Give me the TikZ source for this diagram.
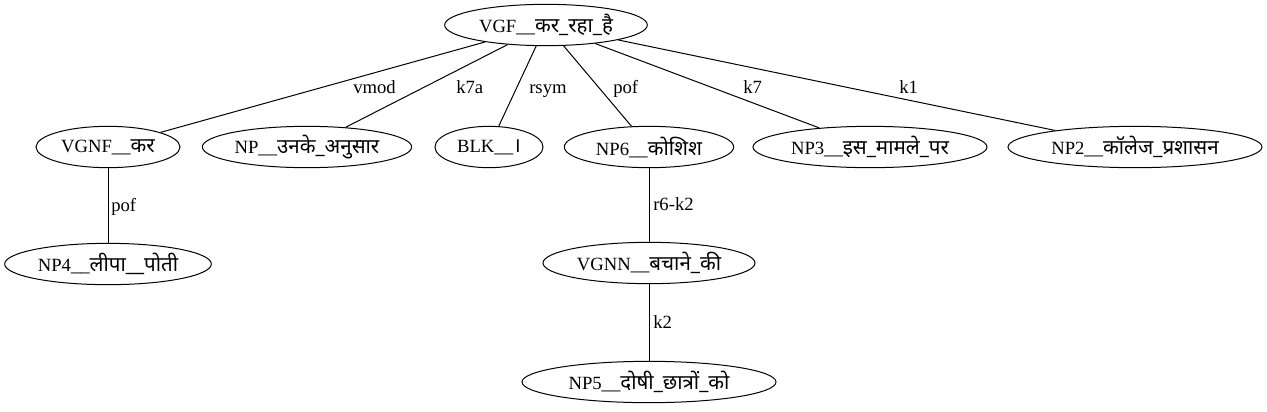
\documentclass[tikz,border=0pt]{standalone}
\usepackage{fontspec}
\setmainfont{Liberation Serif}
\newfontfamily\devafont[Script=Devanagari,Scale=1.1]{Noto Sans}
\newcommand{\hin}[1]{{\devafont #1}}
\usetikzlibrary{shapes.geometric}
\begin{document}
\begin{tikzpicture}[x=0.75pt,y=-0.75pt,
  el/.style={ellipse, draw, line width=0.75pt, inner sep=0pt, minimum height=31pt, font=\fontsize{14pt}{16pt}\selectfont},
  lbl/.style={inner sep=0pt, anchor=base west, font=\fontsize{14pt}{16pt}\selectfont},
  edge/.style={draw, line width=0.75pt}]
\useasboundingbox (0,0) rectangle (1267,411);
\node[el, minimum width=152pt] (root) at (546,25) {VGF\_\_\hin{कर\_रहा\_है}};
\node[el, minimum width=108pt] (vgnf) at (108,147) {VGNF\_\_\hin{कर}};
\node[el, minimum width=157pt] (unke) at (307,147) {NP\_\_\hin{उनके\_अनुसार}};
\node[el, minimum width=81pt] (blk) at (489,147) {BLK\_\_\hin{।}};
\node[el, minimum width=127pt] (np6) at (649,147) {NP6\_\_\hin{कोशिश}};
\node[el, minimum width=175.5pt] (np3) at (870,147) {NP3\_\_\hin{इस\_मामले\_पर}};
\node[el, minimum width=190.5pt] (np2) at (1135,147) {NP2\_\_\hin{कॉलेज\_प्रशासन}};
\node[el, minimum width=155pt] (np4) at (108,264) {NP4\_\_\hin{लीपा\_\_पोती}};
\node[el, minimum width=159pt] (vgnn) at (649,263) {VGNN\_\_\hin{बचाने\_की}};
\node[el, minimum width=190.5pt] (np5) at (649,382) {NP5\_\_\hin{दोषी\_छात्रों\_को}};
\path[edge] (root) -- (vgnf);
\path[edge] (root) -- (unke);
\path[edge] (root) -- (blk);
\path[edge] (root) -- (np6);
\path[edge] (root) -- (np3);
\path[edge] (root) -- (np2);
\path[edge] (vgnf) -- (np4);
\path[edge] (np6) -- (vgnn);
\path[edge] (vgnn) -- (np5);
\node[lbl] (l1) at (353,93) {vmod};
\node[lbl] (l2) at (456,93) {k7a};
\node[lbl] (l3) at (529,93) {rsym};
\node[lbl] (l4) at (613,93) {pof};
\node[lbl] (l5) at (743,93) {k7};
\node[lbl] (l6) at (899,93) {k1};
\node[lbl] (l7) at (111,211) {pof};
\node[lbl] (l8) at (653,210) {r6-k2};
\node[lbl] (l9) at (653,328) {k2};
\end{tikzpicture}
\end{document}
